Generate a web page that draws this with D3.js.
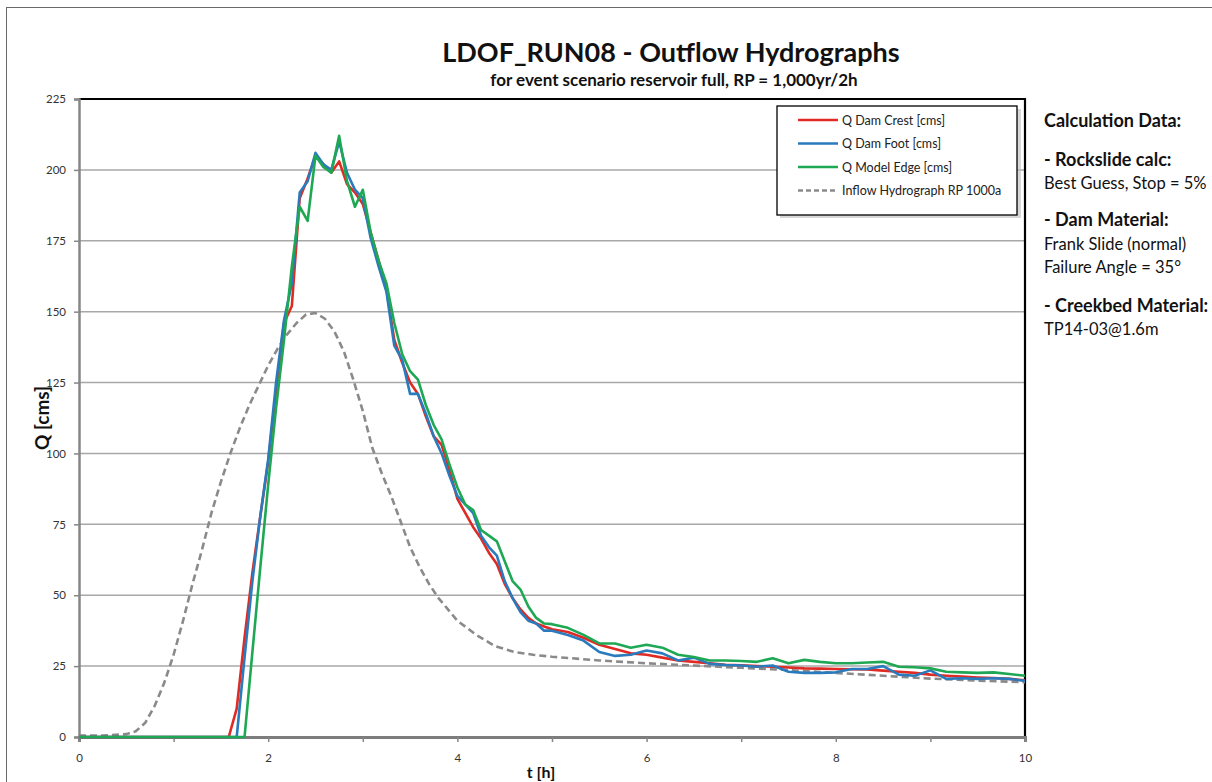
<!DOCTYPE html>
<html>
<head>
<meta charset="utf-8">
<script src="https://cdn.jsdelivr.net/npm/d3@7"></script>
<style>
  body { margin: 0; background: #fff; }
  svg { display: block; font-family: Lato, "Open Sans", sans-serif; }
</style>
</head>
<body>
<div id="chart"></div>
<script>
// outflow series share one time base (5 min steps up to 5 h, 10 min after)
const tOutflow = [0, 1.5, 1.583, 1.667, 1.75, 1.833, 1.917, 2.0, 2.083, 2.167, 2.25, 2.333, 2.417, 2.5, 2.583, 2.667, 2.75, 2.833, 2.917, 3.0, 3.083, 3.167, 3.25, 3.333, 3.417, 3.5, 3.583, 3.667, 3.75, 3.833, 3.917, 4.0, 4.083, 4.167, 4.25, 4.333, 4.417, 4.5, 4.583, 4.667, 4.75, 4.833, 4.917, 5.0, 5.167, 5.333, 5.5, 5.667, 5.833, 6.0, 6.167, 6.333, 6.5, 6.667, 6.833, 7.0, 7.167, 7.333, 7.5, 7.667, 7.833, 8.0, 8.167, 8.333, 8.5, 8.667, 8.833, 9.0, 9.167, 9.333, 9.5, 9.667, 9.833, 10.0];

const qDamCrest = [0, 0, 0, 10, 35, 58, 78, 97, 122, 146, 152, 190, 197, 205, 202, 199, 203, 195, 192, 188, 178, 168, 158, 140, 132, 125, 121, 113, 106, 103, 94, 84, 79, 74, 70, 65, 61, 54, 49, 45, 42, 40, 39, 38,
  37, 35, 32.5, 31, 29.5, 29, 28, 27, 26.5, 26, 25.5, 25.3, 25, 24.8, 24.5, 24.2, 24.1, 24, 23.9, 23.8, 23.4, 23, 22.6, 22, 21.6, 21.3, 21, 20.8, 20.5, 20];

const qDamFoot = [0, 0, 0, 0, 28, 55, 78, 98, 125, 147, 160, 192, 196, 206, 202, 200, 210, 199, 193, 190, 176, 166, 157, 138, 133, 121, 121, 114, 106, 100, 92, 85, 82, 79, 71, 67, 64, 55, 49, 44, 41, 40, 37.5, 37.5,
  36, 34, 30, 28.6, 29, 30.5, 29.5, 27, 28, 25.8, 25.4, 25.2, 24.8, 25.2, 23, 22.6, 22.6, 22.8, 24, 24, 25, 22, 21.6, 23.5, 20.5, 20.7, 20.5, 20.7, 20.5, 19.8];

const qModelEdge = [0, 0, 0, 0, 0, 30, 60, 89, 116, 140, 166, 187, 182, 205, 201, 199, 212, 196, 187, 193, 178, 168, 160, 146, 135, 129, 126, 117, 110, 105, 96, 88, 82, 80, 73, 71, 69, 62, 55, 52, 46, 42, 40, 39.8,
  38.5, 36, 33, 33, 31.5, 32.5, 31.5, 29, 28.2, 27, 27, 26.8, 26.5, 27.8, 26, 27.2, 26.5, 26, 26, 26.3, 26.5, 24.8, 24.6, 24.2, 23, 22.8, 22.6, 22.8, 22.2, 21.6];

const tInflow = [0, 0.25, 0.5, 0.6, 0.7, 0.8, 0.9, 1.0, 1.1, 1.2, 1.3, 1.4, 1.5, 1.6, 1.7, 1.8, 1.9, 2.0, 2.1, 2.2, 2.3, 2.4, 2.5, 2.6, 2.7, 2.8, 2.9, 3.0, 3.1, 3.2, 3.3, 3.4, 3.5, 3.6, 3.7, 3.8, 3.9, 4.0, 4.2, 4.4, 4.6, 4.8, 5.0, 5.5, 6.0, 6.5, 7.0, 7.5, 8.0, 8.5, 9.0, 9.5, 10.0];
const qInflow = [0.5, 0.5, 1, 2, 5, 11, 19, 29, 41, 54, 66, 79, 90, 100, 109, 117, 124, 131, 137, 142, 146, 149, 149.5, 147.5, 143, 136, 126, 115, 102, 93, 85, 76, 67, 60, 54, 49, 45, 41, 36, 32, 30, 29, 28.3, 27, 26, 25.2, 24.4, 23.6, 22.6, 21.6, 20.6, 19.9, 19.3];

const seriesNames = ["Q Dam Crest [cms]", "Q Dam Foot [cms]", "Q Model Edge [cms]", "Inflow Hydrograph RP 1000a"];
const seriesColors = ["#e02a24", "#2a7bbd", "#1fa854", "#8a8a8a"];

const yTicks = [0, 25, 50, 75, 100, 125, 150, 175, 200, 225];
const xTicks = [0, 2, 4, 6, 8, 10];

const calcLines = [
  { text: "Calculation Data:", bold: true },
  { text: "- Rockslide calc:", bold: true },
  { text: "Best Guess, Stop = 5%", bold: false },
  { text: "- Dam Material:", bold: true },
  { text: "Frank Slide (normal)", bold: false },
  { text: "Failure Angle = 35°", bold: false },
  { text: "- Creekbed Material:", bold: true },
  { text: "TP14-03@1.6m", bold: false }
];

const width = 1212;
const height = 782;
const plot = { left: 79, right: 1025, top: 99, bottom: 737 };

const svg = d3.select("#chart").append("svg")
  .attr("width", width)
  .attr("height", height);

// outer chart border
svg.append("rect")
  .attr("x", 6.5).attr("y", 7.5)
  .attr("width", 1400).attr("height", 1000)
  .attr("fill", "none").attr("stroke", "#6a6a6a").attr("stroke-width", 1);

const x = d3.scaleLinear().domain([0, 10]).range([plot.left, plot.right]);
const y = d3.scaleLinear().domain([0, 225]).range([plot.bottom, plot.top]);

// title
svg.append("text")
  .attr("x", 671).attr("y", 62)
  .attr("text-anchor", "middle")
  .attr("font-size", 27).attr("font-weight", 700).attr("fill", "#111")
  .text("LDOF_RUN08 - Outflow Hydrographs");

svg.append("text")
  .attr("x", 674).attr("y", 86)
  .attr("text-anchor", "middle")
  .attr("font-size", 17).attr("font-weight", 700).attr("fill", "#111")
  .text("for event scenario reservoir full, RP = 1,000yr/2h");

// horizontal gridlines
svg.append("g")
  .selectAll("line")
  .data(yTicks.slice(1, -1))
  .join("line")
  .attr("x1", plot.left).attr("x2", plot.right)
  .attr("y1", (d) => y(d)).attr("y2", (d) => y(d))
  .attr("stroke", "#a8a8a8").attr("stroke-width", 1.5);

// top and right frame
svg.append("path")
  .attr("d", `M${plot.left},${plot.top}H${plot.right}V${plot.bottom}`)
  .attr("fill", "none").attr("stroke", "#000").attr("stroke-width", 2.2);

// y axis
const yAxis = svg.append("g")
  .attr("transform", `translate(${plot.left},0)`)
  .call(d3.axisLeft(y).tickValues(yTicks).tickSize(5).tickPadding(8));
yAxis.select(".domain").attr("stroke", "#868686").attr("stroke-width", 2.5);
yAxis.selectAll(".tick line").attr("stroke", "#868686").attr("stroke-width", 1.5);
yAxis.selectAll(".tick text")
  .attr("font-size", 11.5).attr("fill", "#333")
  .attr("font-family", "Lato, sans-serif");

// x axis, minor ticks every hour, labels every 2
const xAxis = svg.append("g")
  .attr("transform", `translate(0,${plot.bottom})`)
  .call(d3.axisBottom(x).tickValues(d3.range(0, 11, 1)).tickSize(5).tickPadding(12)
    .tickFormat((d) => (xTicks.includes(d) ? d : "")));
xAxis.select(".domain").attr("stroke", "#7d7d7d").attr("stroke-width", 3);
xAxis.selectAll(".tick line").attr("stroke", "#868686").attr("stroke-width", 1.5);
xAxis.selectAll(".tick text")
  .attr("font-size", 11.5).attr("fill", "#333")
  .attr("font-family", "Lato, sans-serif");

// axis titles
svg.append("text")
  .attr("transform", "translate(49,418) rotate(-90)")
  .attr("text-anchor", "middle")
  .attr("font-size", 19).attr("font-weight", 700).attr("fill", "#111")
  .text("Q [cms]");

svg.append("text")
  .attr("x", 541).attr("y", 778)
  .attr("text-anchor", "middle")
  .attr("font-size", 16).attr("font-weight", 700).attr("fill", "#111")
  .text("t [h]");

// lines
const line = d3.line()
  .x((d) => x(d[0]))
  .y((d) => y(d[1]));

const series = [
  { name: seriesNames[3], color: seriesColors[3], dash: "7,4", pts: d3.zip(tInflow, qInflow) },
  { name: seriesNames[0], color: seriesColors[0], dash: null, pts: d3.zip(tOutflow, qDamCrest) },
  { name: seriesNames[1], color: seriesColors[1], dash: null, pts: d3.zip(tOutflow, qDamFoot) },
  { name: seriesNames[2], color: seriesColors[2], dash: null, pts: d3.zip(tOutflow, qModelEdge) }
];

svg.append("g")
  .selectAll("path")
  .data(series)
  .join("path")
  .attr("d", (d) => line(d.pts))
  .attr("fill", "none")
  .attr("stroke", (d) => d.color)
  .attr("stroke-width", 2.6)
  .attr("stroke-linejoin", "round")
  .attr("stroke-dasharray", (d) => d.dash);

// legend
const legend = svg.append("g").attr("transform", "translate(777,106)");
legend.append("rect")
  .attr("x", 3).attr("y", 3).attr("width", 241).attr("height", 109)
  .attr("fill", "#bdbdbd").attr("opacity", 0.6);
legend.append("rect")
  .attr("width", 240).attr("height", 109)
  .attr("fill", "#fff").attr("stroke", "#000").attr("stroke-width", 1.3);

const legendRows = legend.selectAll("g.row")
  .data(seriesNames)
  .join("g")
  .attr("class", "row")
  .attr("transform", (d, i) => `translate(0,${14 + i * 23.5})`);

legendRows.append("line")
  .attr("x1", 21).attr("x2", 61)
  .attr("stroke", (d, i) => seriesColors[i])
  .attr("stroke-width", 2.6)
  .attr("stroke-dasharray", (d, i) => (i === 3 ? "5,3" : null));

legendRows.append("text")
  .attr("x", 65).attr("y", 4.5)
  .attr("font-size", 12.5).attr("fill", "#222")
  .text((d) => d);

// calculation notes on the right
const calcY = [127, 166, 189, 226, 250, 273, 312, 335];
svg.append("g")
  .selectAll("text")
  .data(calcLines)
  .join("text")
  .attr("x", 1044)
  .attr("y", (d, i) => calcY[i])
  .attr("font-size", (d) => (d.bold ? 18 : 16.5))
  .attr("font-weight", (d) => (d.bold ? 700 : 400))
  .attr("fill", "#111")
  .text((d) => d.text);
</script>
</body>
</html>
